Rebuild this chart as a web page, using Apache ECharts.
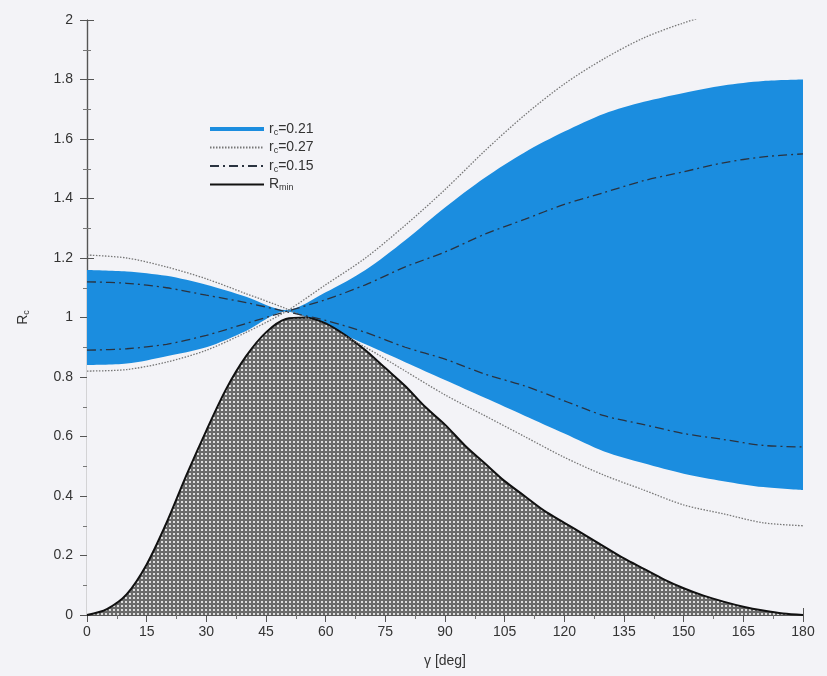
<!DOCTYPE html>
<html><head><meta charset="utf-8">
<script src="https://cdn.jsdelivr.net/npm/echarts@6/dist/echarts.min.js"></script>
<style>html,body{margin:0;padding:0;background:#f3f3f7}#c{width:827px;height:676px}</style>
</head><body><div id="c"></div>
<script>
// gamma grid for band curves (deg)
const gammaBand = [0,10,20,30,40,50,60,70,80,90,100,110,120,130,140,150,160,170,180];
// r_c = 0.21 (blue band): branch A (starts high), branch B (starts low)
const band021A = [1.16,1.155,1.14,1.11,1.07,1.025,0.97,0.91,0.85,0.79,0.73,0.67,0.61,0.55,0.51,0.475,0.45,0.43,0.42];
const band021B = [0.84,0.845,0.87,0.90,0.955,1.02,1.085,1.16,1.26,1.37,1.47,1.555,1.625,1.685,1.725,1.755,1.78,1.795,1.80];
// r_c = 0.27 (dotted)
const dot027A = [1.21,1.20,1.17,1.13,1.08,1.03,0.97,0.90,0.82,0.74,0.67,0.60,0.53,0.47,0.42,0.37,0.34,0.31,0.30];
const dot027B = [0.82,0.825,0.85,0.89,0.95,1.02,1.11,1.20,1.31,1.43,1.56,1.68,1.785,1.87,1.94,1.99,2.03,2.05,2.06];
// r_c = 0.15 (dash-dot)
const dash015A = [1.12,1.115,1.10,1.075,1.05,1.02,0.99,0.95,0.90,0.86,0.81,0.77,0.72,0.67,0.64,0.61,0.59,0.57,0.565];
const dash015B = [0.89,0.895,0.91,0.94,0.98,1.02,1.06,1.11,1.17,1.22,1.28,1.33,1.38,1.42,1.46,1.49,1.52,1.54,1.55];
// R_min
const gammaMin = [0,5,10,15,20,25,30,35,40,45,50,55,60,65,70,75,80,85,90,95,100,105,110,115,120,125,130,135,140,145,150,155,160,165,170,175,180];
const rMin = [0,0.02,0.07,0.17,0.31,0.47,0.62,0.76,0.87,0.95,0.995,1.0,0.98,0.94,0.89,0.83,0.77,0.70,0.64,0.57,0.51,0.45,0.40,0.35,0.31,0.27,0.23,0.19,0.155,0.12,0.09,0.065,0.045,0.028,0.015,0.005,0];
const xTicks = [0,15,30,45,60,75,90,105,120,135,150,165,180];
const yTicks = [0,0.2,0.4,0.6,0.8,1,1.2,1.4,1.6,1.8,2];

const pair = (xs, ys) => xs.map((x,i)=>[x,ys[i]]);
const bandHigh = gammaBand.map((g,i)=>[g, Math.max(band021A[i],band021B[i])]);
const bandLow = gammaBand.map((g,i)=>[g, Math.min(band021A[i],band021B[i])]);

// hatch pattern
const pc = document.createElement('canvas'); pc.width=4; pc.height=4;
const pctx = pc.getContext('2d');
pctx.fillStyle='#6a6a6a'; pctx.fillRect(0,0,4,4);
pctx.fillStyle='#dcdcdc'; pctx.fillRect(1,1,2,2);

const BG='#f3f3f7';
const BLUE='#1b8ddf';
const names = {b:'{r|r}{s|c}{r|=0.21}', d:'{r|r}{s|c}{r|=0.27}', dd:'{r|r}{s|c}{r|=0.15}', m:'{r|R}{s|min}'};
const chart = echarts.init(document.getElementById('c'));
const axisCommon = {
  min:0, axisLine:{show:true,lineStyle:{color:'#555',width:1.2}},
  axisTick:{show:true,inside:true,length:7,lineStyle:{color:'#555'}},
  minorTick:{show:true,splitNumber:2,length:4,lineStyle:{color:'#777'}},
  splitLine:{show:false}
};
const hide = {opacity:0};
chart.setOption({
  backgroundColor:BG,
  animation:false,
  grid:{left:87,right:24,top:20,bottom:61},
  legend:{
    orient:'vertical', left:203, top:117, itemWidth:54, itemHeight:10, itemGap:3.5,
    formatter: n => names[n],
    textStyle:{rich:{r:{fontSize:14,lineHeight:16,color:'#333',fontFamily:'Liberation Sans'},s:{fontSize:9,lineHeight:16,color:'#333',verticalAlign:'bottom',padding:[5,0,0,0],fontFamily:'Liberation Sans'}}},
    data:[
      {name:'b', itemStyle:hide, lineStyle:{width:4,color:BLUE,opacity:1}},
      {name:'d', itemStyle:hide},{name:'dd', itemStyle:hide},{name:'m', itemStyle:hide}
    ]
  },
  xAxis:[
    Object.assign({type:'value',max:180,interval:15,position:'bottom',
      name:'γ [deg]',nameLocation:'middle',nameGap:39,
      nameTextStyle:{fontSize:14,color:'#333',fontFamily:'Liberation Sans'},
      axisLabel:{fontSize:14,color:'#333',margin:10,fontFamily:'Liberation Sans'}},axisCommon),
    Object.assign({type:'value',max:180,interval:15,position:'top',axisLabel:{show:false}},axisCommon)
  ],
  yAxis:[
    Object.assign({type:'value',max:2,interval:0.2,position:'left',
      name:'{r|R}{s|c}',nameLocation:'middle',nameGap:56,nameRotate:90,
      nameTextStyle:{rich:{r:{fontSize:14,color:'#333'},s:{fontSize:9,color:'#333',verticalAlign:'bottom',padding:[6,0,0,0]}}},
      axisLabel:{fontSize:14,color:'#333',margin:14,fontFamily:'Liberation Sans',formatter:v=>String(+v.toFixed(1))}},axisCommon),
    Object.assign({type:'value',max:2,interval:0.2,position:'right',axisLabel:{show:false}},axisCommon)
  ],
  series:[
    {name:'b', type:'line', data:bandHigh, smooth:0.3, symbol:'none',
     lineStyle:{width:0,color:BLUE}, itemStyle:{color:BLUE}, areaStyle:{color:BLUE,opacity:1}, z:1},
    {name:'bandLow', type:'line', data:bandLow, smooth:0.3, symbol:'none',
     lineStyle:{width:0}, areaStyle:{color:BG,opacity:1}, silent:true, z:2},
    {name:'m', type:'line', data:pair(gammaMin,rMin), smooth:0.3, symbol:'none',
     lineStyle:{color:'#111',width:2}, itemStyle:{color:'#111'},
     areaStyle:{color:{image:pc,repeat:'repeat'},opacity:1}, z:3},
    {name:'d', type:'line', data:pair(gammaBand,dot027A), smooth:0.3, symbol:'none',
     lineStyle:{color:'#777',width:1.3,type:[1.5,1.5]}, itemStyle:{color:'#777'}, z:4},
    {name:'d', type:'line', data:pair(gammaBand,dot027B), smooth:0.3, symbol:'none',
     lineStyle:{color:'#777',width:1.3,type:[1.5,1.5]}, itemStyle:{color:'#777'}, z:4},
    {name:'dd', type:'line', data:pair(gammaBand,dash015A), smooth:0.3, symbol:'none',
     lineStyle:{color:'#2a3340',width:1.3,type:[9,4,2,4]}, itemStyle:{color:'#2a3340'}, z:4},
    {name:'dd', type:'line', data:pair(gammaBand,dash015B), smooth:0.3, symbol:'none',
     lineStyle:{color:'#2a3340',width:1.3,type:[9,4,2,4]}, itemStyle:{color:'#2a3340'}, z:4}
  ]
});
</script></body></html>
